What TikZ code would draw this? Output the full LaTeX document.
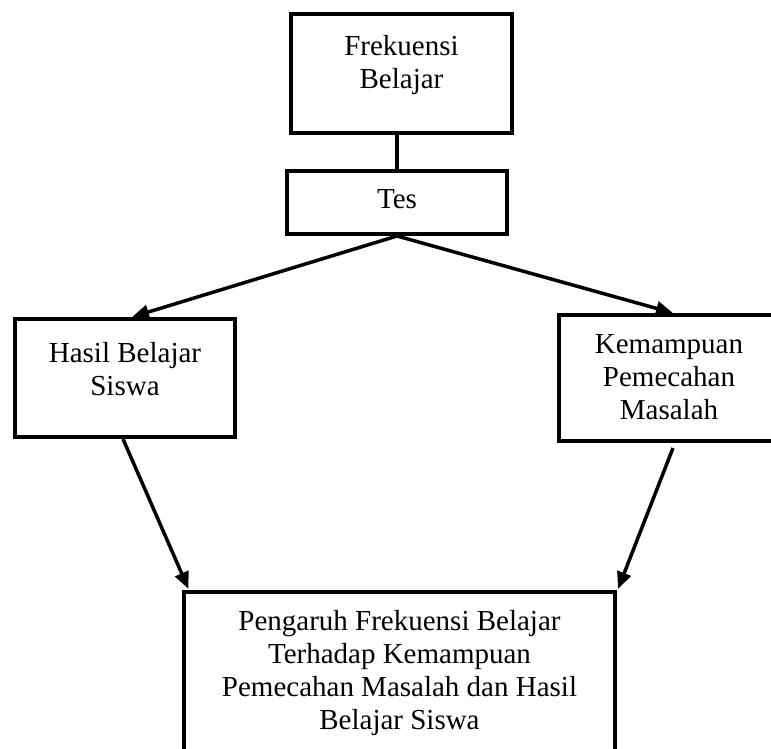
\documentclass[tikz,border=0pt]{standalone}
\usepackage{fontspec}
\setmainfont{Liberation Serif}
\usetikzlibrary{arrows.meta}
\newcommand{\bxtxt}[4]{\parbox[c][#2][t]{#1}{\centering\rule{0pt}{#3}#4}}
\tikzset{
  box/.style={draw, line width=4pt, inner sep=0pt, font=\fontsize{29pt}{33pt}\selectfont},
  arr/.style={line width=3.5pt, -{Triangle[length=17pt,width=14pt]}},
  link/.style={line width=4pt}
}
\begin{document}
\begin{tikzpicture}[x=1pt,y=-1pt]
\clip (0,0) rectangle (771,749);
\fill[white] (0,0) rectangle (771,749);
\node[box] (freq) at (401.5,73.5) {\bxtxt{221pt}{119pt}{42pt}{Frekuensi\\Belajar}};
\node[box] (tes) at (397,202.5) {\bxtxt{220pt}{63pt}{37pt}{Tes}};
\node[box] (lft) at (125,378) {\bxtxt{220pt}{118pt}{43pt}{Hasil Belajar\\Siswa}};
\node[box] (rgt) at (669,378) {\bxtxt{220pt}{126pt}{38pt}{Kemampuan\\Pemecahan\\Masalah}};
\node[box] (bot) at (399.5,677) {\bxtxt{431pt}{170pt}{38pt}{Pengaruh Frekuensi Belajar\\Terhadap Kemampuan\\Pemecahan Masalah dan Hasil\\Belajar Siswa}};
\draw[link] (tes.north) -- (tes.north |- freq.south);
\draw[arr] (tes.south) -- ([xshift=7pt]lft.north);
\draw[arr] (tes.south) -- ([xshift=4pt]rgt.north);
\draw[arr] ([xshift=-2pt]lft.south) -- ([xshift=-211pt,yshift=1pt]bot.north);
\draw[arr] ([xshift=4pt,yshift=-5pt]rgt.south) -- ([xshift=218.5pt,yshift=1pt]bot.north);
\end{tikzpicture}
\end{document}
